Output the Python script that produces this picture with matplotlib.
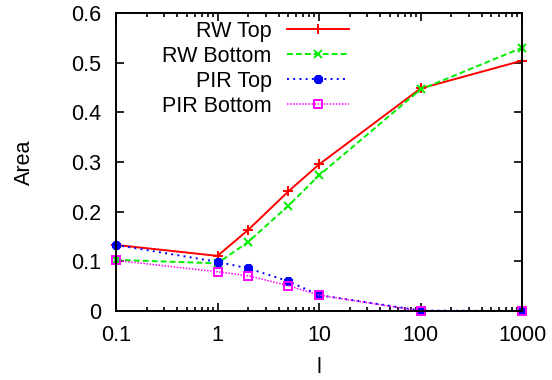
import matplotlib
matplotlib.use("Agg")
import matplotlib.pyplot as plt
from matplotlib.ticker import LogLocator, NullFormatter, FixedLocator

plt.rcParams['font.family'] = ['Liberation Sans', 'DejaVu Sans']

l_values = [0.1, 1, 2, 5, 10, 100, 1000]
rw_top = [0.133, 0.111, 0.163, 0.241, 0.295, 0.448, 0.504]
rw_bottom = [0.103, 0.096, 0.139, 0.212, 0.273, 0.446, 0.530]
pir_top = [0.133, 0.099, 0.086, 0.060, 0.032, 0.001, 0.0]
pir_bottom = [0.102, 0.079, 0.071, 0.051, 0.032, 0.0, 0.0]

x_ticks = [0.1, 1, 10, 100, 1000]
x_tick_labels = ["0.1", "1", "10", "100", "1000"]
y_ticks = [0, 0.1, 0.2, 0.3, 0.4, 0.5, 0.6]
y_tick_labels = ["0", "0.1", "0.2", "0.3", "0.4", "0.5", "0.6"]

FS = 15.5

fig = plt.figure(figsize=(5.52, 3.8), dpi=100)
ax = fig.add_axes([116 / 552, 1 - 311 / 380, 406 / 552, 298 / 380])

lw = 1.4
ax.plot(l_values, rw_top, color='#ff0000', linestyle='-', lw=lw,
        marker='+', markersize=7, markeredgewidth=1.4, label='RW Top', clip_on=False)
ax.plot(l_values, rw_bottom, color='#00ee00', linestyle=(0, (3, 1.6)), lw=lw,
        marker='x', markersize=6, markeredgewidth=1.4, label='RW Bottom', clip_on=False)
ax.plot(l_values, pir_top, color='#0000ff', linestyle=(0, (1, 2.2)), lw=lw,
        marker=(8, 2, 0), markersize=6.5, markeredgewidth=2.4, label='PIR Top', clip_on=False)
ax.plot(l_values, pir_bottom, color='#ff00ff', linestyle=(0, (1, 1)), lw=1.1,
        marker='s', markersize=6, markerfacecolor='none', markeredgewidth=1.4,
        label='PIR Bottom', clip_on=False)

ax.set_xscale('log')
ax.set_xlim(0.1, 1000)
ax.set_ylim(0, 0.6)
ax.xaxis.set_major_locator(FixedLocator(x_ticks))
ax.set_xticklabels(x_tick_labels)
ax.xaxis.set_minor_locator(LogLocator(base=10, subs=range(2, 10), numticks=20))
ax.xaxis.set_minor_formatter(NullFormatter())
ax.set_yticks(y_ticks)
ax.set_yticklabels(y_tick_labels)

ax.tick_params(which='both', direction='in', top=True, right=True,
               labelsize=FS, width=1.2)
ax.tick_params(which='major', length=6)
ax.tick_params(which='minor', length=3)
ax.tick_params(axis='y', which='major', pad=10.5)
ax.tick_params(axis='x', which='major', pad=10)
for s in ax.spines.values():
    s.set_linewidth(1.4)

ax.set_xlabel('l', fontsize=FS, labelpad=8)
ax.set_ylabel('Area', fontsize=FS, labelpad=26)

ax.legend(loc='upper right', bbox_to_anchor=(349 / 552, 1 - 21 / 380),
          bbox_transform=fig.transFigure, frameon=False, markerfirst=False,
          fontsize=FS, handlelength=2.9, handletextpad=0.7, labelspacing=0.18,
          borderpad=0, borderaxespad=0)

fig.savefig('out.png', dpi=100)
